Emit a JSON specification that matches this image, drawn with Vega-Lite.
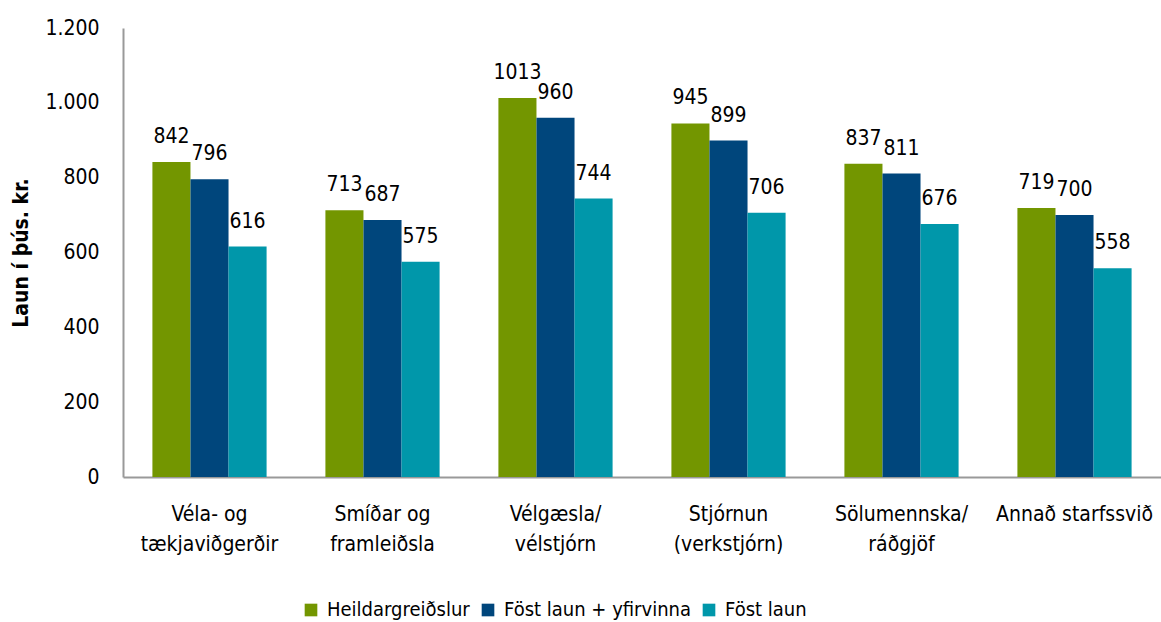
{
  "$schema": "https://vega.github.io/schema/vega-lite/v6.json",
  "autosize": "none",
  "width": 1038,
  "height": 449,
  "padding": {"left": 123, "top": 28, "right": 0, "bottom": 145},
  "background": "white",
  "config": {
    "font": "'DejaVu Sans Condensed', 'Liberation Sans'",
    "view": {"stroke": null}
  },
  "data": {
    "values": [
      {"cat": "Véla- og|tækjaviðgerðir", "series": "Heildargreiðslur", "order": 0, "value": 842},
      {"cat": "Véla- og|tækjaviðgerðir", "series": "Föst laun + yfirvinna", "order": 1, "value": 796},
      {"cat": "Véla- og|tækjaviðgerðir", "series": "Föst laun", "order": 2, "value": 616},
      {"cat": "Smíðar og|framleiðsla", "series": "Heildargreiðslur", "order": 0, "value": 713},
      {"cat": "Smíðar og|framleiðsla", "series": "Föst laun + yfirvinna", "order": 1, "value": 687},
      {"cat": "Smíðar og|framleiðsla", "series": "Föst laun", "order": 2, "value": 575},
      {"cat": "Vélgæsla/|vélstjórn", "series": "Heildargreiðslur", "order": 0, "value": 1013},
      {"cat": "Vélgæsla/|vélstjórn", "series": "Föst laun + yfirvinna", "order": 1, "value": 960},
      {"cat": "Vélgæsla/|vélstjórn", "series": "Föst laun", "order": 2, "value": 744},
      {"cat": "Stjórnun|(verkstjórn)", "series": "Heildargreiðslur", "order": 0, "value": 945},
      {"cat": "Stjórnun|(verkstjórn)", "series": "Föst laun + yfirvinna", "order": 1, "value": 899},
      {"cat": "Stjórnun|(verkstjórn)", "series": "Föst laun", "order": 2, "value": 706},
      {"cat": "Sölumennska/|ráðgjöf", "series": "Heildargreiðslur", "order": 0, "value": 837},
      {"cat": "Sölumennska/|ráðgjöf", "series": "Föst laun + yfirvinna", "order": 1, "value": 811},
      {"cat": "Sölumennska/|ráðgjöf", "series": "Föst laun", "order": 2, "value": 676},
      {"cat": "Annað starfssvið", "series": "Heildargreiðslur", "order": 0, "value": 719},
      {"cat": "Annað starfssvið", "series": "Föst laun + yfirvinna", "order": 1, "value": 700},
      {"cat": "Annað starfssvið", "series": "Föst laun", "order": 2, "value": 558}
    ]
  },
  "encoding": {
    "x": {
      "field": "cat",
      "type": "nominal",
      "sort": null,
      "scale": {"paddingInner": 0.34, "paddingOuter": 0.17},
      "axis": {
        "title": null,
        "labelAngle": 0,
        "labelExpr": "split(datum.label, '|')",
        "labelFontSize": 21,
        "labelColor": "#000000",
        "labelLineHeight": 30,
        "labelPadding": 26,
        "ticks": false,
        "domainColor": "#999999",
        "domainWidth": 2
      }
    },
    "xOffset": {"field": "series", "type": "nominal", "sort": ["Heildargreiðslur", "Föst laun + yfirvinna", "Föst laun"], "scale": {"paddingInner": 0, "paddingOuter": 0}},
    "y": {
      "field": "value",
      "type": "quantitative",
      "scale": {"domain": [0, 1200]},
      "axis": {
        "title": "Laun í þús. kr.",
        "titleFontSize": 21,
        "titleFontWeight": "bold",
        "titleColor": "#000000",
        "titlePadding": 13,
        "values": [0, 200, 400, 600, 800, 1000, 1200],
        "labelExpr": "replace(format(datum.value, ','), ',', '.')",
        "labelFontSize": 21,
        "labelColor": "#000000",
        "labelPadding": 24,
        "ticks": false,
        "grid": false,
        "domainColor": "#999999",
        "domainWidth": 2
      }
    }
  },
  "layer": [
    {
      "mark": {"type": "bar"},
      "encoding": {
        "color": {
          "field": "series",
          "type": "nominal",
          "sort": ["Heildargreiðslur", "Föst laun + yfirvinna", "Föst laun"],
          "scale": {"domain": ["Heildargreiðslur", "Föst laun + yfirvinna", "Föst laun"], "range": ["#739600", "#00467c", "#0097aa"]},
          "legend": {
            "title": null,
            "orient": "none",
            "direction": "horizontal",
            "legendX": 178,
            "legendY": 572,
            "symbolType": "square",
            "symbolSize": 160,
            "symbolStrokeWidth": 0,
            "labelFontSize": 20,
            "labelColor": "#000000",
            "labelOffset": 6,
            "columnPadding": 8,
            "labelLimit": 400
          }
        }
      }
    },
    {
      "mark": {"type": "text", "baseline": "alphabetic", "dy": -19, "fontSize": 21, "color": "#000000"},
      "encoding": {
        "text": {"field": "value", "type": "quantitative", "format": "d"}
      }
    }
  ]
}
